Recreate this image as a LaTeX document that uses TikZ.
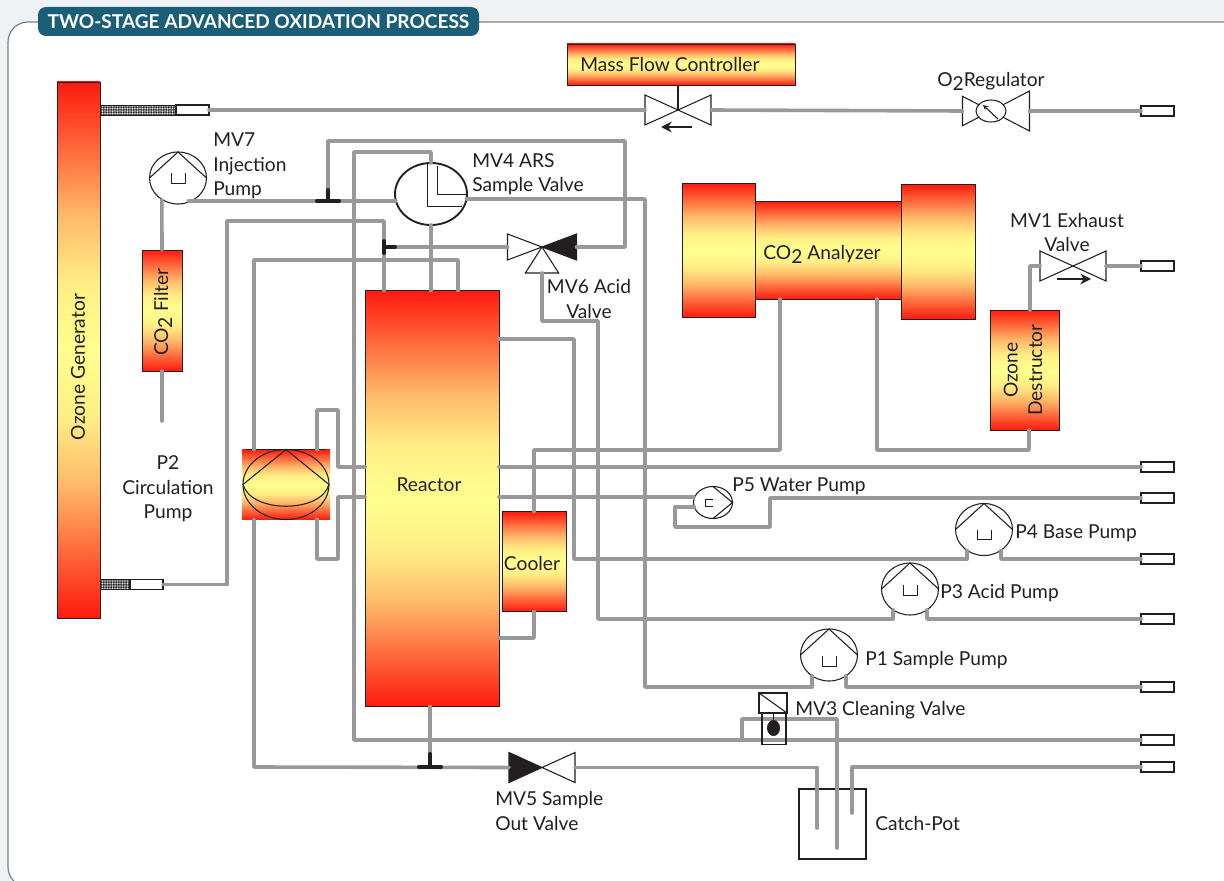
\documentclass[tikz,border=0pt]{standalone}
\usepackage{fontspec}
\setmainfont{Lato}
\usetikzlibrary{
	arrows.meta,
	positioning,
	shapes.geometric,
	patterns.meta
}
\usepackage{xcolor}
\definecolor{heatred}{RGB}{255,26,13}
\definecolor{heatb}{RGB}{255,105,60}
\definecolor{heatc}{RGB}{255,185,105}
\definecolor{heatd}{RGB}{255,238,133}
\definecolor{heatyellow}{RGB}{255,255,142}
\definecolor{pipegray}{HTML}{999999}
\definecolor{linedark}{HTML}{231F20}
\definecolor{pillteal}{HTML}{1B5E78}
\definecolor{paper}{HTML}{EEF2F4}
\pgfdeclareverticalshading{heatfade}{100bp}{
	color(0bp)=(heatred); color(25bp)=(heatred); color(31.25bp)=(heatb); color(37.5bp)=(heatc);
	color(43.75bp)=(heatd); color(50bp)=(heatyellow); color(56.25bp)=(heatd);
	color(62.5bp)=(heatc); color(68.75bp)=(heatb); color(75bp)=(heatred); color(100bp)=(heatred)}
\newcommand{\lowtwo}{\raisebox{-3pt}{2}}
\tikzset{
	boxsize/.style 2 args={minimum width=#1*0.75pt,minimum height=#2*0.75pt,inner sep=0pt,outer sep=0pt},
	heatbox/.style={draw=linedark,line width=0.7pt,shading=heatfade,text=linedark},
	pipe/.style={draw=pipegray,line width=2.7pt,line cap=round,line join=round},
	sym/.style={draw=linedark,line width=0.8pt,fill=white},
	symline/.style={draw=linedark,line width=0.8pt},
	pumpbody/.style={ellipse,sym},
	meshstub/.style={draw=linedark,line width=0.5pt,pattern={Dots[distance=1.25pt,radius=0.63pt]},pattern color=linedark},
	tee/.style={draw=linedark,line width=3pt,line cap=round},
	outlet/.style={sym,boxsize={33}{10}},
	tag/.style={text=linedark,inner sep=0pt,font=\fontsize{14.4}{18.3}\selectfont},
	flow/.style={draw=linedark,line width=1.5pt,-{Stealth[length=8pt,width=8pt]}}
}
\newcommand{\pumpsign}[2]{% name, drop of the small cup
	\draw[symline] (#1.west) -- (#1.north) -- (#1.east);
	\draw[symline,line width=0.7pt] ([shift={(-7,#2-5)}]#1.center) -- ++(0,10) -- ++(14,0) -- ++(0,-10);
}
\begin{document}
\begin{tikzpicture}[>=stealth,x=0.75pt,y=-0.75pt]
		\useasboundingbox (0,0) rectangle (1224,881);
		\clip (0,0) rectangle (1224,881);
		\fill[paper] (0,0) rectangle (1224,881);
		
		% Panel and title
		\draw[draw=gray,line width=0.9pt,fill=white,rounded corners=15pt] (8,22) rectangle (1300,887);
		\node[boxsize={441}{29},fill=pillteal,rounded corners=6pt,text=white,font=\bfseries\fontsize{14.3}{16}\selectfont] (title) at (258.5,21.5) {TWO-STAGE ADVANCED OXIDATION PROCESS};
		
		% Ozone generator
		\node[heatbox,boxsize={43}{536}] (ozone) at (78.5,350) {};
		\node[tag,rotate=90] (ozonetag) at (78,367) {Ozone Generator};
		\node[meshstub,boxsize={76}{10},anchor=west] (ozonemesha) at (100,110) {};
		\node[outlet,anchor=west] (ozonestuba) at (176,110) {};
		\node[meshstub,boxsize={30}{10},anchor=west] (ozonemeshb) at (100,584.5) {};
		\node[outlet,anchor=west] (ozonestubb) at (130,584.5) {};
		
		% Reactor side
		\node[heatbox,boxsize={134}{416}] (reactor) at (432,498.5) {};
		\node[tag] (reactortag) at (429,485) {Reactor};
		\node[heatbox,boxsize={64}{100},tag] (cooler) at (534,561.5) {};
		\node[tag] (coolertag) at (532,563) {Cooler};
		\node[heatbox,boxsize={40}{121}] (filter) at (162,310.5) {};
		\node[tag,rotate=90] (filtertag) at (163,312) {CO\lowtwo{} Filter};
		
		% Analyzer and destructor
		\node[heatbox,boxsize={146}{98}] (ana) at (828,250) {};
		\node[heatbox,boxsize={73}{134}] (analeft) at (718.5,250) {};
		\node[heatbox,boxsize={74}{135}] (anaright) at (938,251.5) {};
		\node[tag] (anatag) at (822,254) {CO\lowtwo{} Analyzer};
		\node[heatbox,boxsize={69}{120}] (destruct) at (1024.5,370) {};
		\node[tag,rotate=90,align=center] (destructtag) at (1023,370) {Ozone\\Destructor};
		\node[heatbox,boxsize={228}{41}] (mfc) at (681,64.5) {};
		\node[tag,anchor=west] (mfctag) at (580,65) {Mass Flow Controller};
		
		% Circulation pump
		\node[boxsize={88}{70},shading=heatfade] (circbox) at (286,484.5) {};
		\node[ellipse,symline,boxsize={86}{70}] (circ) at (286,484.5) {};
		\draw[symline] (circ.west) -- (circ.north) -- (circ.east);
		\draw[symline] (circ.west) .. controls +(8,29) and +(-8,29) .. (circ.east);
		\draw[symline] ([xshift=-30pt]circbox.north) -- ([xshift=30pt]circbox.north);
		
		% Pumps
		\node[pumpbody,boxsize={57}{52}] (inject) at (178,178) {};
		\pumpsign{inject}{0}
		\node[pumpbody,boxsize={57}{52}] (basepump) at (984,529.5) {};
		\pumpsign{basepump}{5}
		\node[pumpbody,boxsize={57}{52}] (acidpump) at (910,589) {};
		\pumpsign{acidpump}{1}
		\node[pumpbody,boxsize={57}{52}] (samplepump) at (829,655) {};
		\pumpsign{samplepump}{6}
		\node[pumpbody,boxsize={39}{32}] (waterpump) at (713,502.5) {};
		\draw[symline] (waterpump.north) -- (waterpump.east) -- (waterpump.south);
		\draw[symline,line width=0.7pt] (713,499) -- (705,499) -- (705,506) -- (713,506);
		
		% Valves
		\node[boxsize={66}{30}] (mfcvalve) at (678,110) {};
		\draw[sym] (mfcvalve.north west) -- (mfcvalve.south east) -- (mfcvalve.north east) -- (mfcvalve.south west) -- cycle;
		\draw[flow] (692,127) -- (661,127);
		\node[boxsize={66}{30}] (exhaust) at (1073,266) {};
		\draw[sym] (exhaust.north west) -- (exhaust.south east) -- (exhaust.north east) -- (exhaust.south west) -- cycle;
		\draw[flow] (1057,279) -- (1091,279);
		\node[boxsize={66}{30}] (outvalve) at (542,767.5) {};
		\draw[sym,fill=linedark] (outvalve.north west) -- (outvalve.center) -- (outvalve.south west) -- cycle;
		\draw[sym] (outvalve.north east) -- (outvalve.center) -- (outvalve.south east) -- cycle;
		\node[boxsize={69}{26}] (acidvalve) at (542,247) {};
		\draw[sym] (acidvalve.north west) -- (acidvalve.center) -- (acidvalve.south west) -- cycle;
		\draw[sym,fill=linedark] (acidvalve.north east) -- (acidvalve.center) -- (acidvalve.south east) -- cycle;
		\coordinate (acidfoot) at (542,273);
		\draw[sym] (acidvalve.center) -- ([xshift=-12.5pt]acidfoot) -- ([xshift=12.5pt]acidfoot) -- cycle;
		\node[boxsize={67}{40}] (regulator) at (996,111) {};
		\draw[sym] ([yshift=11pt]regulator.west) -- (991,111) -- ([yshift=-11pt]regulator.west) -- cycle;
		\draw[sym] ([yshift=15pt]regulator.east) -- (991,111) -- ([yshift=-15pt]regulator.east) -- cycle;
		\node[pumpbody,boxsize={30}{22}] (regdial) at (991,111) {};
		\draw[symline,->] (998,119) -- (983,105);
		\node[ellipse,draw=linedark,line width=1.4pt,fill=white,boxsize={72}{62}] (arsvalve) at (431,194) {};
		\draw[symline,line width=0.6pt] (427,164) -- (427,206) -- (462,206);
		\draw[symline,line width=0.6pt] (437,166) -- (437,194) -- (466,194);
		
		% Outlets
		\node[outlet] (outoxygen) at (1157.5,111) {};
		\node[outlet] (outexhaust) at (1157.5,266) {};
		\node[outlet] (outdrain) at (1157.5,467) {};
		\node[outlet] (outwater) at (1157.5,498) {};
		\node[outlet] (outbase) at (1157.5,559) {};
		\node[outlet] (outacid) at (1157.5,619) {};
		\node[outlet] (outsample) at (1157.5,687) {};
		\node[outlet] (outclean) at (1157.5,740) {};
		\node[outlet] (outcatch) at (1157.5,767) {};
		
		% Catch pot
		\node[draw=linedark,line width=0.9pt,boxsize={67}{70}] (pot) at (832.5,824) {};
		
		% Junction points
		\coordinate (teeinject) at (328,201);
		\coordinate (teegas) at (384,247);
		\coordinate (teesample) at (430,767);
		\coordinate (gasturn) at (227,221);
		\coordinate (gasdrop) at (384,221);
		\coordinate (ventturn) at (254,260);
		\coordinate (ventdrop) at (458,260);
		\coordinate (loopa) at (317,410);
		\coordinate (loopb) at (338,410);
		\coordinate (loopc) at (317,559);
		\coordinate (loopd) at (338,559);
		\coordinate (waterin) at (694,497);
		\coordinate (waterb) at (675,527);
		\coordinate (waterc) at (770,527);
		\coordinate (injturn) at (328,141);
		\coordinate (injdrop) at (625,141);
		\coordinate (arsturn) at (354,152);
		\coordinate (arsout) at (645,687);
		\coordinate (acidturn) at (598,321);
		\coordinate (acidlow) at (598,619);
		\coordinate (baseturn) at (574,339);
		\coordinate (baselow) at (574,559);
		\coordinate (coolback) at (534,638);
		\coordinate (anaturn) at (780,450);
		\coordinate (anaback) at (877,450);
		\coordinate (destturn) at (1029,450);
		\coordinate (exhturn) at (1030,266);
		\coordinate (cleantap) at (742,740);
		\coordinate (cleanup) at (742,719);
		\coordinate (cleandrop) at (837,719);
		\coordinate (potmid) at (837,848);
		\coordinate (potin) at (817,828);
		\coordinate (potvent) at (852,813);
		\coordinate (sampledrop) at (254,767);
		\coordinate (filtertail) at (162,421);
		
		% Pipes
		\draw[pipe] (ozonestuba.east) -- (mfcvalve.west);
		\draw[pipe] (mfcvalve.east) -- (regulator.west);
		\draw[pipe] (regulator.east) -- (outoxygen.west);
		\draw[pipe] (ozonestubb.east) -| (gasturn) -- (gasdrop) -- (reactor.north -| gasdrop);
		\draw[pipe] (inject.-127) -- (filter.north);
		\draw[pipe] (filter.south) -- (filtertail);
		\draw[pipe] (inject.-67 |- teeinject) -- (arsvalve.190 |- teeinject);
		\draw[pipe] (teeinject) -- (injturn) -- (injdrop) |- (acidvalve.east);
		\draw[pipe] (arsvalve.north) |- (arsturn) |- (outclean.west);
		\draw[pipe] (arsvalve.-8) -| (arsout) -| (samplepump.-129);
		\draw[pipe] (samplepump.-51) |- (outsample.west);
		\draw[pipe] (arsvalve.south) -- (reactor.north -| arsvalve.south);
		\draw[pipe] (teegas) -- (acidvalve.west);
		\draw[pipe] (acidfoot) |- (acidturn) -- (acidlow) -| (acidpump.-129);
		\draw[pipe] (acidpump.-51) |- (outacid.west);
		\draw[pipe] (circbox.north -| ventturn) -- (ventturn) -- (ventdrop) -- (reactor.north -| ventdrop);
		\draw[pipe] (circbox.south -| ventturn) |- (sampledrop) -- (outvalve.west);
		\draw[pipe] (reactor.south -| teesample) -- (teesample);
		\draw[pipe] (outvalve.east) -| (potin);
		\draw[pipe] (circbox.north -| loopa) -- (loopa) -- (loopb) |- (reactor.west |- outdrain);
		\draw[pipe] (circbox.south -| loopc) -- (loopc) -- (loopd) |- (reactor.west |- waterin);
		\draw[pipe] (reactor.east |- outdrain) -- (outdrain.west);
		\draw[pipe] (reactor.east |- waterin) -- (waterin);
		\draw[pipe] (waterpump.193) -| (waterb) -- (waterc) |- (outwater.west);
		\draw[pipe] (reactor.east |- baseturn) -- (baseturn) -- (baselow) -| (basepump.-129);
		\draw[pipe] (basepump.-51) |- (outbase.west);
		\draw[pipe] (cooler.north) |- (anaturn) -- (ana.south -| anaturn);
		\draw[pipe] (cooler.south) -- (coolback) -- (reactor.east |- coolback);
		\draw[pipe] (ana.south -| anaback) -- (anaback) -- (destturn) -- (destruct.south -| destturn);
		\draw[pipe] (destruct.north -| exhturn) -- (exhturn) -- (exhaust.west);
		\draw[pipe] (exhaust.east) -- (outexhaust.west);
		\draw[pipe] (cleantap) -- (cleanup) -- (cleandrop) -- (potmid);
		\draw[pipe] (potvent) |- (outcatch.west);
		
		% Tee marks
		\draw[tee] (teeinject) ++(-11,0) -- ++(22,0) (teeinject) -- ++(0,-11);
		\draw[tee] (teegas) ++(0,-6) -- ++(0,12) (teegas) -- ++(11,0);
		\draw[tee] (teesample) ++(-11,0) -- ++(22,0) (teesample) -- ++(0,-13);
		
		% Mass flow stem
		\draw[symline] (mfc.south -| mfcvalve) -- (mfcvalve.center);
		
		% Cleaning valve
		\node[sym,boxsize={28}{20}] (cleanhead) at (773,703) {};
		\draw[symline] (cleanhead.north west) -- (cleanhead.south east);
		\node[symline,boxsize={24}{32}] (cleanbody) at (774,728.5) {};
		\node[ellipse,fill=linedark,boxsize={13}{16}] (cleanball) at (773.5,728) {};
		\draw[symline] (cleanhead.south -| cleanball) -- (cleanball);
		
		% Labels
		\node[tag,anchor=west,align=left] (injecttag) at (213,166) {MV7\\Injection\\Pump};
		\node[tag,anchor=west,align=left] (arstag) at (472,174) {MV4 ARS\\Sample Valve};
		\node[tag,align=center] (acidtag) at (589,299) {MV6 Acid\\Valve};
		\node[tag,align=center] (exhausttag) at (1067,232.5) {MV1 Exhaust\\Valve};
		\node[tag,align=center] (circtag) at (168,489) {P2\\Circulation\\Pump};
		\node[tag,anchor=west] (watertag) at (732,486) {P5 Water Pump};
		\node[tag,anchor=west] (basetag) at (1015,533) {P4 Base Pump};
		\node[tag,anchor=west] (acidpumptag) at (940,593) {P3 Acid Pump};
		\node[tag,anchor=west] (sampletag) at (865,660) {P1 Sample Pump};
		\node[tag,anchor=west] (cleantag) at (795,710) {MV3 Cleaning Valve};
		\node[tag,anchor=west,align=left] (outtag) at (495,811) {MV5 Sample\\Out Valve};
		\node[tag,anchor=west] (pottag) at (875,823) {Catch-Pot};
		\node[tag,anchor=west] (regtag) at (937,81) {O\lowtwo{}Regulator};
		
	\end{tikzpicture}
\end{document}
